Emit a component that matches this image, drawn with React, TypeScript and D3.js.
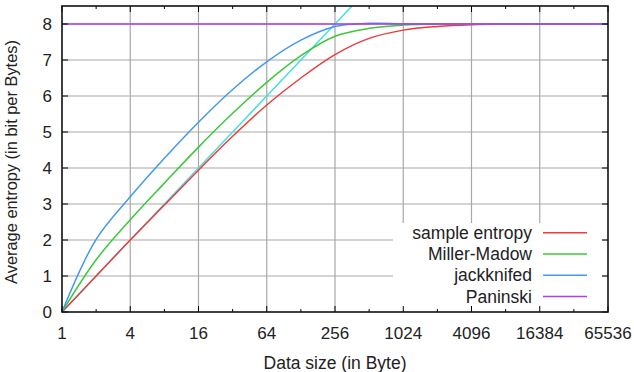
import * as d3 from 'd3'

// sizes in bytes (x) and the average entropy estimates (y)
const SIZES = [1, 2, 4, 8, 16, 32, 64, 128, 256, 512, 1024, 2048, 4096, 8192, 16384, 32768, 65536]
const SAMPLE = [0, 1.0, 2.0, 2.97, 3.94, 4.88, 5.75, 6.5, 7.15, 7.6, 7.83, 7.93, 7.98, 8, 8, 8, 8]
const MILLER = [0, 1.45, 2.56, 3.58, 4.58, 5.52, 6.38, 7.12, 7.66, 7.88, 7.97, 8, 8, 8, 8, 8, 8]
const JACK = [0, 2.02, 3.2, 4.27, 5.27, 6.18, 6.95, 7.55, 7.93, 8.02, 8.01, 8, 8, 8, 8, 8, 8]
const PANINSKI = [8, 8, 8, 8, 8, 8, 8, 8, 8, 8, 8, 8, 8, 8, 8, 8, 8]
// upper bound log2(n), only drawn up to where it leaves the plot
const BOUND_SIZES = [1, 2, 4, 8, 16, 32, 64, 128, 256, 512]
const BOUND = [0, 1, 2, 3, 4, 5, 6, 7, 8, 9]

const X_TICKS = [1, 4, 16, 64, 256, 1024, 4096, 16384, 65536]
const Y_TICKS = [0, 1, 2, 3, 4, 5, 6, 7, 8]

const SERIES = [
  { name: 'sample entropy', values: SAMPLE, color: '#ee3b3b' },
  { name: 'Miller-Madow', values: MILLER, color: '#3cc83c' },
  { name: 'jackknifed', values: JACK, color: '#4499ee' },
  { name: 'Paninski', values: PANINSKI, color: '#b03ee0' },
]

const W = 634
const H = 372
const m = { top: 6, right: 26, bottom: 60, left: 62 }
const FONT = '"Liberation Sans", Arial, Helvetica, sans-serif'

export default function App() {
  const iw = W - m.left - m.right
  const ih = H - m.top - m.bottom
  const x = d3.scaleLog().base(2).domain([1, 65536]).range([0, iw])
  const y = d3.scaleLinear().domain([0, 8.5]).range([ih, 0])

  const line = (xs: number[], ys: number[]) =>
    d3.line<number>()
      .x((_, i) => x(xs[i]))
      .y((d) => y(d))
      .curve(d3.curveCatmullRom.alpha(0.5))(ys) || ''

  const gridX = X_TICKS.slice(1, -1)
  const gridY = Y_TICKS.slice(1)

  // legend placement
  const legTextX = 532 - m.left
  const legLine = [543 - m.left, 587 - m.left]
  const legRow0 = 232.7 - m.top
  const legStep = 21.3

  return (
    <svg width={W} height={H} style={{ position: 'absolute', left: 0, top: 0, background: '#fff' }}
      fontFamily={FONT}>
      <defs>
        <clipPath id="plot-clip">
          <rect x={0} y={0} width={iw} height={ih} />
        </clipPath>
      </defs>
      <g transform={`translate(${m.left},${m.top})`}>
        {gridX.map((t) => (
          <line key={'gx' + t} x1={x(t)} x2={x(t)} y1={0} y2={ih} stroke="#a8a8a8" strokeWidth={1.2} />
        ))}
        {gridY.map((t) => (
          <line key={'gy' + t} x1={0} x2={iw} y1={y(t)} y2={y(t)} stroke="#a8a8a8" strokeWidth={1.2} />
        ))}

        <g clipPath="url(#plot-clip)" fill="none" strokeWidth={1.5}>
          <path d={line(BOUND_SIZES, BOUND)} stroke="#44e0e0" />
          {SERIES.map((s) => (
            <path key={s.name} d={line(SIZES, s.values)} stroke={s.color} />
          ))}
        </g>

        {/* legend box */}
        <rect x={393 - m.left} y={223 - m.top} width={602 - 393} height={ih - (223 - m.top) - 1} fill="#fff" />
        {SERIES.map((s, i) => {
          const cy = legRow0 + i * legStep
          return (
            <g key={'leg' + s.name}>
              <text x={legTextX} y={cy} dy="0.35em" textAnchor="end" fontSize={17.5} fill="#222">{s.name}</text>
              <line x1={legLine[0]} x2={legLine[1]} y1={cy} y2={cy} stroke={s.color} strokeWidth={1.5} />
            </g>
          )
        })}

        {/* mirrored inward ticks */}
        {SIZES.map((t, i) => {
          const len = i % 2 === 0 ? 6 : 3
          return (
            <g key={'tx' + t} stroke="#000" strokeWidth={1}>
              <line x1={x(t)} x2={x(t)} y1={ih} y2={ih - len} />
              <line x1={x(t)} x2={x(t)} y1={0} y2={len} />
            </g>
          )
        })}
        {Y_TICKS.map((t) => (
          <g key={'ty' + t} stroke="#000" strokeWidth={1}>
            <line x1={0} x2={6} y1={y(t)} y2={y(t)} />
            <line x1={iw} x2={iw - 6} y1={y(t)} y2={y(t)} />
          </g>
        ))}

        <rect x={0} y={0} width={iw} height={ih} fill="none" stroke="#111" strokeWidth={1.6} />

        {X_TICKS.map((t) => (
          <text key={'lx' + t} x={x(t)} y={ih + 21} dy="0.35em" textAnchor="middle" fontSize={17} fill="#222">{t}</text>
        ))}
        {Y_TICKS.map((t) => (
          <text key={'ly' + t} x={-10} y={y(t)} dy="0.35em" textAnchor="end" fontSize={17} fill="#222">{t}</text>
        ))}

        <text x={335 - m.left} y={363 - m.top} dy="0.35em" textAnchor="middle" fontSize={17.5} fill="#222">
          Data size (in Byte)
        </text>
        <text transform={`translate(${11 - m.left},${162 - m.top}) rotate(-90)`} dy="0.35em"
          textAnchor="middle" fontSize={16.4} fill="#222">
          Average entropy (in bit per Bytes)
        </text>
      </g>
    </svg>
  )
}
